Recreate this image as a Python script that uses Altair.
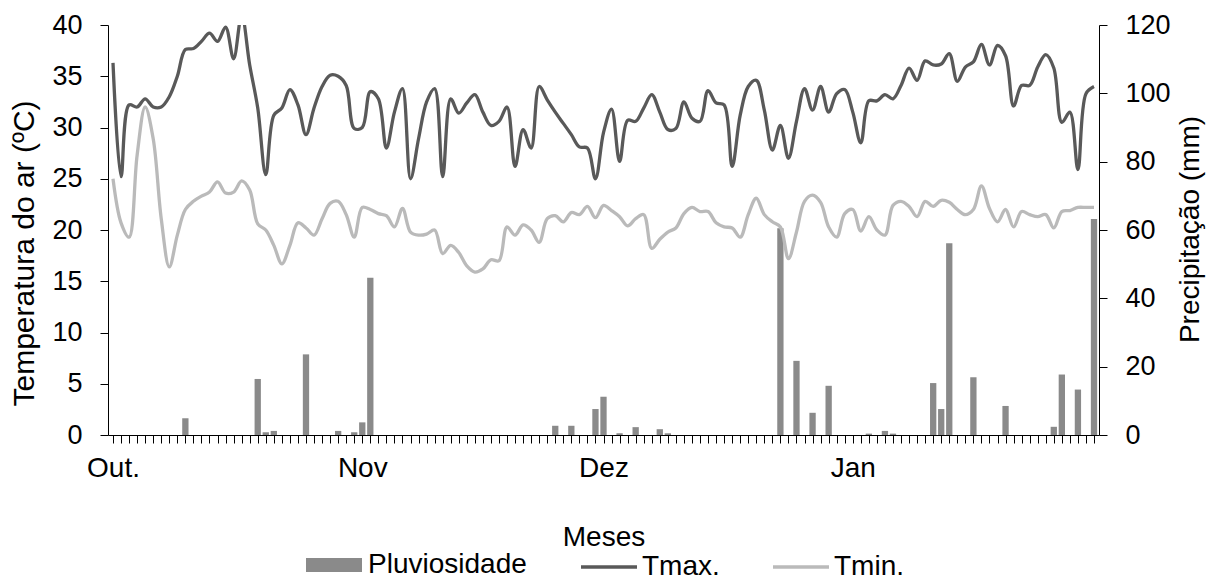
import altair as alt
import pandas as pd

# Daily series, 1 Oct .. 31 Jan (123 days)
tmax = [36.3, 25.2, 32.2, 32.0, 32.8, 32.0, 32.0, 33.0, 35.0, 37.6,
        37.7, 38.4, 39.2, 38.4, 39.8, 36.7, 41.0, 36.1, 31.9, 25.4,
        31.2, 31.9, 33.7, 32.2, 29.3, 31.9, 34.0, 35.1, 35.0, 34.1,
        29.9, 30.0, 33.5, 32.8, 28.0, 31.5, 33.8, 25.0, 28.9, 32.5,
        33.8, 25.2, 32.8, 31.4, 32.4, 33.2, 31.5, 30.2, 30.6, 32.0,
        26.2, 29.8, 28.0, 34.0, 32.7, 31.5, 30.4, 29.3, 28.1, 28.0,
        25.0, 29.5, 31.8, 26.7, 30.7, 30.6, 31.9, 33.2, 31.5, 29.8,
        29.9, 32.5, 30.9, 30.6, 33.6, 32.4, 32.2, 26.2, 31.2, 34.0,
        34.6, 31.7, 27.8, 30.2, 27.0, 30.6, 33.8, 31.7, 34.0, 31.5,
        33.3, 33.7, 31.5, 28.5, 32.6, 32.6, 33.2, 32.8, 34.1, 35.8,
        34.6, 36.5, 36.1, 36.2, 37.2, 34.5, 35.9, 36.4, 38.1, 36.1,
        38.0, 37.0, 32.1, 34.1, 34.1, 35.9, 37.1, 35.8, 30.5, 31.5,
        25.9, 33.3, 34.0]

tmin = [25.0, 20.7, 19.3, 27.3, 32.0, 28.9, 21.1, 16.4, 19.5, 22.0,
        22.8, 23.3, 23.7, 24.7, 23.6, 23.7, 24.8, 23.9, 20.6, 20.0,
        18.5, 16.7, 18.5, 20.7, 20.2, 19.5, 21.1, 22.6, 22.8, 21.5,
        19.3, 22.2, 22.0, 21.6, 21.4, 20.3, 22.1, 19.8, 19.5, 19.6,
        20.0, 17.7, 18.5, 17.8, 16.5, 15.9, 16.2, 17.1, 17.0, 20.3,
        19.5, 20.5, 20.0, 18.8, 21.1, 21.4, 20.8, 21.7, 21.5, 22.3,
        21.2, 22.4, 21.9, 21.3, 20.4, 21.1, 21.5, 18.2, 19.1, 19.8,
        20.2, 21.6, 22.2, 21.8, 21.8, 20.7, 20.3, 20.2, 19.3, 21.5,
        23.1, 21.5, 20.8, 20.3, 17.2, 19.8, 22.8, 23.4, 22.7, 20.3,
        19.3, 21.6, 22.0, 19.9, 21.3, 20.0, 19.5, 22.4, 22.8, 22.3,
        21.3, 22.8, 22.3, 22.9, 22.7, 22.0, 21.5, 22.0, 24.3, 22.1,
        20.8, 22.0, 20.3, 21.8, 21.5, 21.3, 21.5, 20.2, 21.8, 21.9,
        22.2, 22.2, 22.2]

chuva = [0, 0, 0, 0, 0, 0, 0, 0, 0, 4.9,
         0, 0, 0, 0, 0, 0, 0, 0, 16.4, 0.8,
         1.2, 0, 0, 0, 23.6, 0, 0, 0, 1.2, 0,
         0.8, 3.7, 46.0, 0, 0, 0, 0, 0, 0, 0,
         0, 0, 0, 0, 0, 0, 0, 0, 0, 0,
         0, 0, 0, 0, 0, 2.7, 0, 2.7, 0, 0,
         7.6, 11.2, 0, 0.5, 0, 2.3, 0, 0, 1.7, 0.5,
         0, 0, 0, 0, 0, 0, 0, 0, 0, 0,
         0, 0, 0, 60.5, 0, 21.7, 0, 6.5, 0, 14.4,
         0, 0, 0, 0, 0.4, 0, 1.2, 0.4, 0, 0,
         0, 0, 15.2, 7.6, 56.1, 0, 0, 16.9, 0, 0,
         0, 8.5, 0, 0, 0, 0, 0, 2.4, 17.7, 0,
         13.3, 0, 63.2]

meses = ["Out.", "Nov", "Dez", "Jan"]
inicio_mes = [0, 31, 61, 92]

n = len(tmax)
dia = list(range(n))

df_t = pd.DataFrame({
    "dia": dia + dia,
    "temp": tmax + tmin,
    "serie": ["Tmax."] * n + ["Tmin."] * n,
})
df_p = pd.DataFrame({"dia": dia, "chuva": chuva, "serie": ["Pluviosidade"] * n})

label_expr = ""
for m, s in zip(meses, inicio_mes):
    label_expr += f"datum.value == {s} ? '{m}' : "
label_expr += "''"

FONT = "Liberation Sans"

x_enc = alt.X(
    "dia:Q",
    scale=alt.Scale(domain=[0, n - 1], nice=False, zero=False),
    axis=alt.Axis(
        values=dia, labelExpr=label_expr, tickSize=8, labelOverlap=False,
        labelFlush=False, labelPadding=11, labelFontSize=28, grid=False,
        title="Meses", titleFontSize=28, titleY=110, titleBaseline="alphabetic",
        labelAngle=0,
    ),
)

bars = alt.Chart(df_p).mark_bar(size=6.3, clip=True).encode(
    x=x_enc,
    y=alt.Y(
        "chuva:Q",
        scale=alt.Scale(domain=[0, 120], nice=False),
        axis=alt.Axis(
            orient="right", values=[0, 20, 40, 60, 80, 100, 120], tickSize=8,
            labelPadding=18, labelFontSize=27, grid=False,
            title="Precipitação (mm)", titleFontSize=28, titleAngle=270,
            titleX=99, titleY=204, titleAlign="center", titleBaseline="alphabetic",
        ),
    ),
    fill=alt.Fill(
        "serie:N",
        scale=alt.Scale(domain=["Pluviosidade"], range=["#8a8a8a"]),
        legend=alt.Legend(
            orient="none", legendX=198, legendY=512, direction="horizontal",
            title=None, symbolType="M-1,-0.25H1V0.25H-1Z", symbolSize=3136,
            symbolStrokeWidth=0, labelFontSize=28, labelOffset=6, labelLimit=400,
            padding=0,
        ),
    ),
)

lines = alt.Chart(df_t).mark_line(
    interpolate="catmull-rom", strokeWidth=3.3, clip=True
).encode(
    x=x_enc,
    y=alt.Y(
        "temp:Q",
        scale=alt.Scale(domain=[0, 40], nice=False),
        axis=alt.Axis(
            orient="left", values=[0, 5, 10, 15, 20, 25, 30, 35, 40], tickSize=8,
            labelPadding=18, labelFontSize=27, grid=False,
            title="Temperatura do ar (ºC)", titleFontSize=30, titleAngle=270,
            titleX=-75, titleY=228, titleAlign="center", titleBaseline="alphabetic",
        ),
    ),
    stroke=alt.Stroke(
        "serie:N",
        scale=alt.Scale(domain=["Tmax.", "Tmin."], range=["#595959", "#bababa"]),
        legend=alt.Legend(
            orient="none", legendX=471, legendY=512, direction="horizontal",
            title=None, symbolType="stroke", symbolSize=3136, symbolStrokeWidth=3.3,
            labelFontSize=28, labelOffset=3, columnPadding=46, labelLimit=400,
            padding=0,
        ),
    ),
    detail="serie:N",
)

chart = (
    alt.layer(bars, lines)
    .resolve_scale(y="independent", fill="independent", stroke="independent")
    .properties(
        width=991, height=410,
        autosize=alt.AutoSizeParams(type="none"),
        padding={"left": 100, "top": 17, "right": 107, "bottom": 146},
    )
    .configure(font=FONT)
    .configure_view(stroke=None)
    .configure_axis(
        labelFont=FONT, titleFont=FONT, labelColor="#000000", titleColor="#000000",
        domainColor="#000000", tickColor="#000000", domainWidth=1, tickWidth=1,
        titleFontWeight="normal",
    )
    .configure_legend(labelFont=FONT, labelColor="#000000")
)

chart.save("out.html", embed_options={"renderer": "svg", "actions": False})
